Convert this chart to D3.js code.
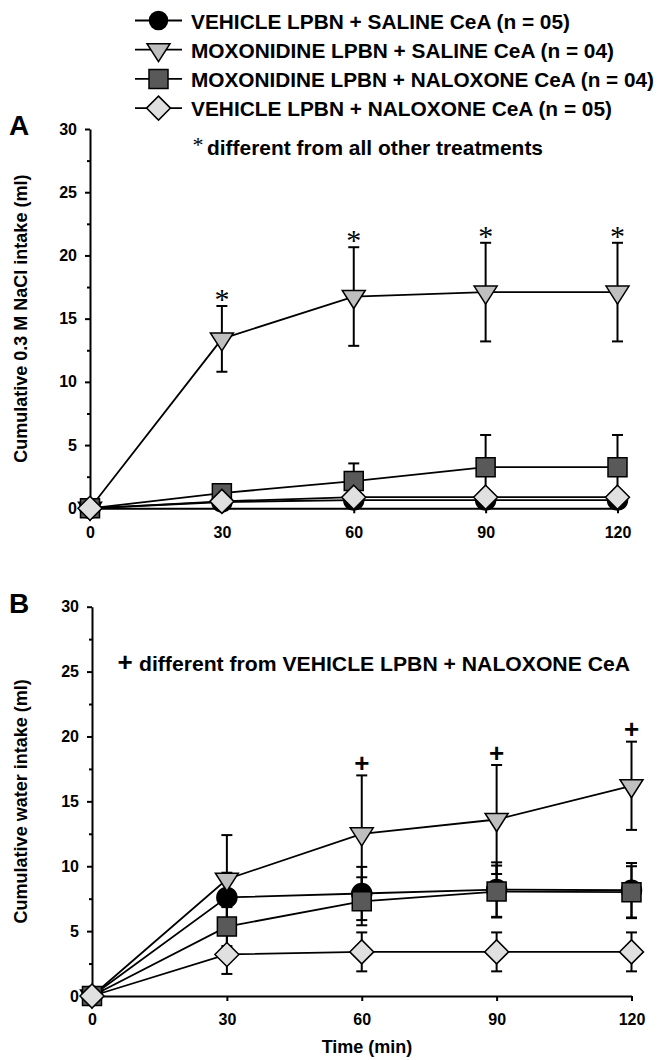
<!DOCTYPE html>
<html>
<head>
<meta charset="utf-8">
<script src="https://cdn.jsdelivr.net/npm/d3@7"></script>
<style>
  html, body { margin: 0; padding: 0; background: #fff; }
  svg { display: block; font-family: "Liberation Sans", Arial, sans-serif; font-weight: bold; }
</style>
</head>
<body>
<script>
// ---------- data ----------
const times = [0, 30, 60, 90, 120];
const xTickLabels = ["0", "30", "60", "90", "120"];
const yTicks = [0, 5, 10, 15, 20, 25, 30];
const yMinorTicks = [2.5, 7.5, 12.5, 17.5, 22.5, 27.5];

const seriesNames = [
  "VEHICLE LPBN + SALINE CeA (n = 05)",
  "MOXONIDINE LPBN + SALINE CeA (n = 04)",
  "MOXONIDINE LPBN + NALOXONE CeA (n = 04)",
  "VEHICLE LPBN + NALOXONE CeA (n = 05)"
];
const seriesShapes = ["circle", "triangle", "square", "diamond"];
const seriesFills = ["#000000", "#bfbfbf", "#595959", "#e0e0e0"];

// Panel A: cumulative 0.3 M NaCl intake (ml), mean and SEM
const naclVehSal = [0, 0.5, 0.65, 0.65, 0.65];
const naclVehSalSem = [0, 0.3, 0.3, 0.3, 0.3];
const naclMoxSal = [0, 13.4, 16.75, 17.1, 17.1];
const naclMoxSalSem = [0, 2.6, 3.9, 3.9, 3.9];
const naclMoxNal = [0, 1.2, 2.15, 3.25, 3.25];
const naclMoxNalSem = [0, 0.5, 1.4, 2.55, 2.55];
const naclVehNal = [0, 0.55, 0.88, 0.88, 0.88];
const naclVehNalSem = [0, 0.3, 0.3, 0.3, 0.3];
const naclSigTimes = [30, 60, 90, 120];

// Panel B: cumulative water intake (ml), mean and SEM
const waterVehSal = [0, 7.6, 7.9, 8.2, 8.15];
const waterVehSalSem = [0, 1.9, 2.05, 2.1, 2.1];
const waterMoxSal = [0, 9.0, 12.5, 13.6, 16.2];
const waterMoxSalSem = [0, 3.4, 4.5, 4.2, 3.4];
const waterMoxNal = [0, 5.35, 7.3, 8.05, 8.0];
const waterMoxNalSem = [0, 1.5, 1.85, 2.0, 2.0];
const waterVehNal = [0, 3.2, 3.4, 3.4, 3.4];
const waterVehNalSem = [0, 1.5, 1.5, 1.5, 1.5];
const waterSigTimes = [60, 90, 120];

// ---------- drawing ----------
const svg = d3.select("body").append("svg").attr("width", 660).attr("height", 1060);

function markerPath(shape, k) {
  k = k || 1;
  if (shape === "circle") return d3.symbol(d3.symbolCircle, Math.PI * 100 * k * k)();
  if (shape === "square") { const h = 9.5 * k; return `M${-h},${-h}H${h}V${h}H${-h}Z`; }
  if (shape === "triangle") { const w = 11.5 * k; return `M${-w},${-6 * k}L${w},${-6 * k}L0,${12 * k}Z`; }
  const d = 12 * k; return `M0,${-d}L${d},0L0,${d}L${-d},0Z`;
}

// legend
const legendTextEnds = [570, 614, 654, 612];
const leg = svg.append("g");
seriesNames.forEach((name, i) => {
  const cy = 20.5 + 29.2 * i;
  leg.append("line").attr("x1", 135).attr("x2", 182).attr("y1", cy).attr("y2", cy)
    .attr("stroke", "#000").attr("stroke-width", 1.8);
  leg.append("path").attr("d", markerPath(seriesShapes[i], i === 0 ? 0.9 : 1))
    .attr("transform", `translate(158.5,${cy})`)
    .attr("fill", seriesFills[i]).attr("stroke", "#000").attr("stroke-width", 1.5);
  leg.append("text").attr("x", 191).attr("y", cy + 8).attr("font-size", 21)
    .attr("textLength", legendTextEnds[i] - 191).attr("lengthAdjust", "spacingAndGlyphs")
    .text(name);
});

function drawPanel(cfg) {
  const x = d3.scaleLinear().domain([0, 120]).range([cfg.x0, cfg.x1]);
  const y = d3.scaleLinear().domain([0, 30]).range([cfg.y0, cfg.y1]);
  const g = svg.append("g");

  // y axis
  const ya = g.append("g").attr("transform", `translate(${cfg.x0},0)`)
    .call(d3.axisLeft(y).tickValues(yTicks).tickSize(5).tickSizeOuter(0).tickPadding(8));
  ya.select(".domain").attr("stroke-width", 2);
  ya.selectAll(".tick line").attr("stroke-width", 2);
  ya.selectAll(".tick text").attr("font-size", 16).attr("font-family", null).attr("fill", "#000");
  const ym = g.append("g").attr("transform", `translate(${cfg.x0},0)`)
    .call(d3.axisLeft(y).tickValues(yMinorTicks).tickSize(3).tickSizeOuter(0).tickFormat(""));
  ym.select(".domain").remove();
  ym.selectAll(".tick line").attr("stroke-width", 2);

  // x axis
  const xa = g.append("g").attr("transform", `translate(0,${cfg.y0})`)
    .call(d3.axisBottom(x).tickValues(times).tickFormat((d, i) => xTickLabels[i])
      .tickSize(5).tickSizeOuter(0).tickPadding(13));
  xa.select(".domain").attr("stroke-width", 2);
  xa.selectAll(".tick line").attr("stroke-width", 2);
  xa.selectAll(".tick text").attr("font-size", 16).attr("font-family", null).attr("fill", "#000");

  // y title
  g.append("text").attr("transform", `translate(26.5,${(cfg.y0 + cfg.y1) / 2}) rotate(-90)`)
    .attr("text-anchor", "middle").attr("font-size", 18).text(cfg.yTitle);

  // panel letter
  g.append("text").attr("x", 9).attr("y", cfg.letterY).attr("font-size", 28).text(cfg.letter);

  const line = d3.line().x((d, i) => x(times[i])).y(d => y(d));
  // lines
  cfg.series.forEach(s => {
    g.append("path").attr("d", line(s.mean)).attr("fill", "none")
      .attr("stroke", "#000").attr("stroke-width", 1.8);
  });
  // error bars
  cfg.series.forEach(s => {
    s.mean.forEach((m, i) => {
      if (!s.sem[i]) return;
      const cx = x(times[i]), yt = y(m + s.sem[i]), yb = y(m - s.sem[i]);
      g.append("line").attr("x1", cx).attr("x2", cx).attr("y1", yt).attr("y2", yb)
        .attr("stroke", "#000").attr("stroke-width", 2);
      [yt, yb].forEach(yy => g.append("line").attr("x1", cx - 5.5).attr("x2", cx + 5.5)
        .attr("y1", yy).attr("y2", yy).attr("stroke", "#000").attr("stroke-width", 2));
    });
  });
  // markers
  cfg.series.forEach((s, k) => {
    s.mean.forEach((m, i) => {
      g.append("path").attr("d", markerPath(seriesShapes[k]))
        .attr("transform", `translate(${x(times[i])},${y(m)})`)
        .attr("fill", seriesFills[k]).attr("stroke", "#000").attr("stroke-width", 1.5);
    });
  });
  // significance marks
  const ref = cfg.series[1];
  cfg.sigTimes.forEach(t => {
    const i = times.indexOf(t);
    const top = y(ref.mean[i] + ref.sem[i]);
    if (cfg.sigChar === "*") {
      g.append("text").attr("x", x(t)).attr("y", top - 11 + 14).attr("text-anchor", "middle")
        .attr("font-family", "'Liberation Serif', 'Times New Roman', serif").attr("font-weight", "normal")
        .attr("font-size", 30).text("*");
    } else {
      g.append("text").attr("x", x(t)).attr("y", top - 12 + 8.8).attr("text-anchor", "middle")
        .attr("font-size", 26).text("+");
    }
  });
  // annotation
  const ann = g.append("text").attr("y", cfg.annY).attr("font-size", 20.5)
    .attr("lengthAdjust", "spacingAndGlyphs");
  if (cfg.sigChar === "*") {
    g.append("text").attr("x", 198).attr("y", 152).attr("text-anchor", "middle")
      .attr("font-family", "'Liberation Serif', 'Times New Roman', serif").attr("font-weight", "normal")
      .attr("font-size", 22).text("*");
    ann.attr("x", 207).attr("textLength", 543 - 207).text(cfg.annText);
  } else {
    g.append("text").attr("x", 125).attr("y", 670.5).attr("text-anchor", "middle")
      .attr("font-size", 26).text("+");
    ann.attr("x", 139).attr("textLength", 630 - 139).text(cfg.annText);
  }
  if (cfg.xTitle) {
    g.append("text").attr("x", 367).attr("y", 1053).attr("text-anchor", "middle")
      .attr("font-size", 18).text(cfg.xTitle);
  }
}

drawPanel({
  x0: 90, x1: 617.5, y0: 508.3, y1: 129,
  letter: "A", letterY: 135,
  yTitle: "Cumulative 0.3 M NaCl intake (ml)",
  series: [
    { mean: naclVehSal, sem: naclVehSalSem },
    { mean: naclMoxSal, sem: naclMoxSalSem },
    { mean: naclMoxNal, sem: naclMoxNalSem },
    { mean: naclVehNal, sem: naclVehNalSem }
  ],
  sigTimes: naclSigTimes, sigChar: "*",
  annText: "different from all other treatments", annY: 155
});

drawPanel({
  x0: 92, x1: 631.5, y0: 996, y1: 606.7,
  letter: "B", letterY: 613,
  yTitle: "Cumulative water intake (ml)",
  series: [
    { mean: waterVehSal, sem: waterVehSalSem },
    { mean: waterMoxSal, sem: waterMoxSalSem },
    { mean: waterMoxNal, sem: waterMoxNalSem },
    { mean: waterVehNal, sem: waterVehNalSem }
  ],
  sigTimes: waterSigTimes, sigChar: "+",
  annText: "different from VEHICLE LPBN + NALOXONE CeA", annY: 670.5,
  xTitle: "Time (min)"
});
</script>
</body>
</html>
